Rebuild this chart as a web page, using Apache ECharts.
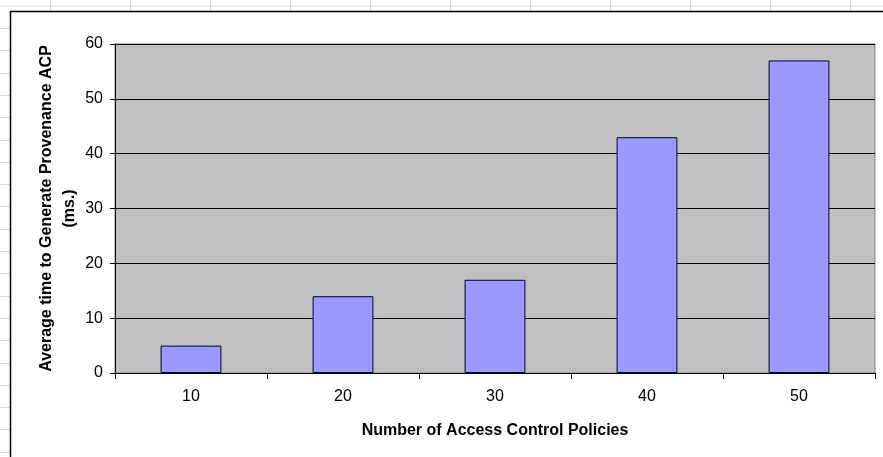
<!DOCTYPE html>
<html><head><meta charset="utf-8">
<script src="https://cdn.jsdelivr.net/npm/echarts@6/dist/echarts.min.js"></script>
<style>html,body{margin:0;padding:0;background:#fff}#c{width:883px;height:457px}</style>
</head><body><div id="c"></div>
<script>
const categories = ['10', '20', '30', '40', '50'];
const values = [5, 14, 17, 43, 57];
const yTicks = [0, 10, 20, 30, 40, 50, 60];
const yTitle = 'Average time to Generate Provenance ACP\n(ms.)';
const xTitle = 'Number of Access Control Policies';

const font = '"Liberation Sans", Arial, sans-serif';
const chart = echarts.init(document.getElementById('c'));

// faint spreadsheet cell lines behind the chart
const sheet = [];
sheet.push({type:'line', shape:{x1:0,y1:6,x2:883,y2:6}, style:{stroke:'#d8d8d8',lineWidth:1}, z:0});
for (let x = 50; x < 883; x += 80) {
  sheet.push({type:'line', shape:{x1:x+0.5,y1:0,x2:x+0.5,y2:11}, style:{stroke:'#d8d8d8',lineWidth:1}, z:0});
}
for (let y = 28; y < 457; y += 22.3) {
  sheet.push({type:'line', shape:{x1:0,y1:Math.round(y)+0.5,x2:10,y2:Math.round(y)+0.5}, style:{stroke:'#d8d8d8',lineWidth:1}, z:0});
}

chart.setOption({
  animation: false,
  backgroundColor: '#fff',
  graphic: sheet.concat([
    {type:'rect', shape:{x:10.5,y:11.5,width:900,height:460}, style:{fill:'none',stroke:'#000',lineWidth:1.5}, z:1}
  ]),
  grid: {left:115, right:8, top:44, bottom:84, containLabel:false, show:true, backgroundColor:'#c0c0c0', borderColor:'#808080', borderWidth:1},
  xAxis: {
    type:'category', data: categories,
    name: xTitle, nameLocation:'middle', nameGap:50, nameMoveOverlap:false,
    nameTextStyle:{fontFamily:font, fontSize:16, fontWeight:'bold', color:'#000'},
    axisLine:{lineStyle:{color:'#000', width:1}},
    axisTick:{show:true, alignWithLabel:false, length:6, lineStyle:{color:'#000'}},
    axisLabel:{fontFamily:font, fontSize:16, color:'#000', margin:16}
  },
  yAxis: {
    type:'value', min: yTicks[0], max: yTicks[yTicks.length-1], interval: 10,
    name: yTitle, nameLocation:'middle', nameGap:34, nameRotate:90, nameMoveOverlap:false,
    nameTextStyle:{fontFamily:font, fontSize:16, fontWeight:'bold', color:'#000', lineHeight:23},
    axisLine:{show:true, lineStyle:{color:'#000', width:1}},
    axisTick:{show:true, length:5, lineStyle:{color:'#000'}},
    axisLabel:{fontFamily:font, fontSize:16, color:'#000', margin:12},
    splitLine:{show:true, lineStyle:{color:'#000', width:1}}
  },
  series: [{
    type:'bar', data: values, barWidth:'40%',
    itemStyle:{color:'#9999ff', borderColor:'#000040', borderWidth:1}
  }]
});
</script></body></html>
